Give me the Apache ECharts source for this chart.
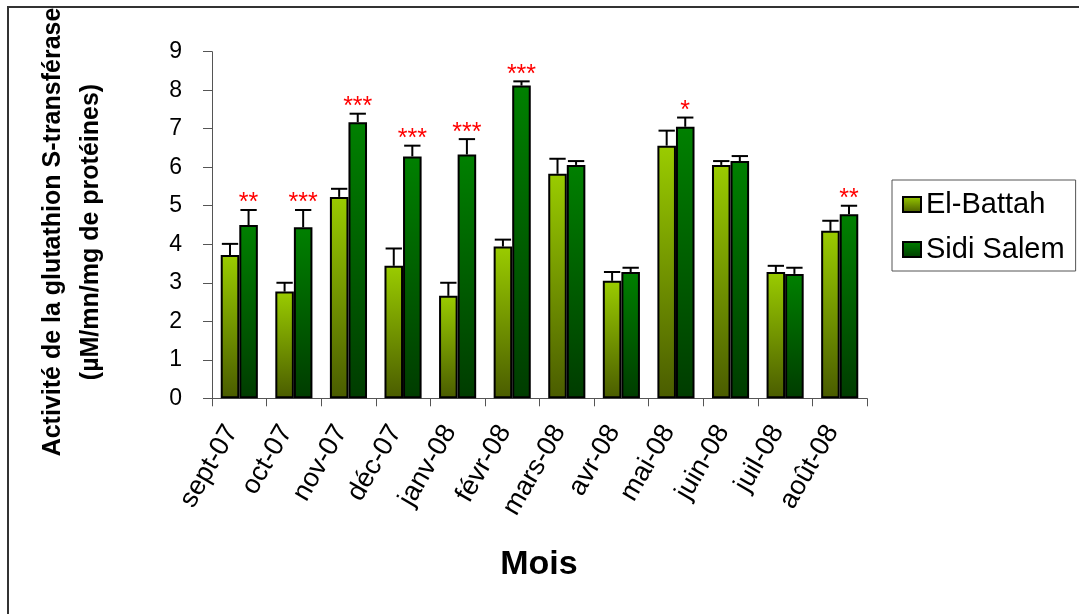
<!DOCTYPE html>
<html>
<head>
<meta charset="utf-8">
<script src="https://cdn.jsdelivr.net/npm/echarts@6/dist/echarts.min.js"></script>
<style>
  html, body { margin: 0; padding: 0; background: #fff; }
  #chart { width: 1079px; height: 614px; }
</style>
</head>
<body>
<div id="chart"></div>
<script>
// Monthly glutathion S-transférase activity, two sites, Sept 2007 – Aug 2008
const months = ['sept-07', 'oct-07', 'nov-07', 'déc-07', 'janv-08', 'févr-08',
                'mars-08', 'avr-08', 'mai-08', 'juin-08', 'juil-08', 'août-08'];
const elBattah    = [3.72, 2.77, 5.23, 3.44, 2.66, 3.94, 5.83, 3.05, 6.56, 6.06, 3.28, 4.35];
const elBattahErr = [0.29, 0.23, 0.21, 0.45, 0.34, 0.18, 0.39, 0.23, 0.39, 0.10, 0.16, 0.26];
const sidiSalem    = [4.50, 4.44, 7.17, 6.28, 6.33, 8.12, 6.06, 3.28, 7.05, 6.16, 3.23, 4.78];
const sidiSalemErr = [0.39, 0.45, 0.22, 0.28, 0.40, 0.11, 0.10, 0.11, 0.24, 0.13, 0.16, 0.22];
const significance = ['**', '***', '***', '***', '***', '***', '', '', '*', '', '', '**'];
const yMin = 0, yMax = 9, yStep = 1;

const FONT = 'Liberation Sans, Arial, sans-serif';
const CAT_GAP = 0.32;

const gradEB = new echarts.graphic.LinearGradient(0, 0, 0, 1, [
  { offset: 0, color: '#9acc00' },
  { offset: 1, color: '#4a5c00' }
]);
const gradSS = new echarts.graphic.LinearGradient(0, 0, 0, 1, [
  { offset: 0, color: '#008000' },
  { offset: 1, color: '#003c00' }
]);

// Upper error bar (stem + cap) and optional significance stars
function errorBars(side, stars) {
  return function (params, api) {
    const i = api.value(0);
    const v = api.value(1);
    const e = api.value(2);
    const base = api.coord([i, v]);
    const hi = api.coord([i, v + e]);
    const band = api.size([1, 0])[0];
    const barW = band * (1 - CAT_GAP) / 2;
    const x = base[0] + side * barW / 2;
    const cap = barW * 0.44;
    const children = [
      { type: 'line', shape: { x1: x, y1: base[1], x2: x, y2: hi[1] },
        style: { stroke: '#000', lineWidth: 2 } },
      { type: 'line', shape: { x1: x - cap, y1: hi[1], x2: x + cap, y2: hi[1] },
        style: { stroke: '#000', lineWidth: 2 } }
    ];
    if (stars && stars[i]) {
      children.push({
        type: 'text', x: x, y: hi[1] + 6,
        style: { text: stars[i], fill: '#ff0000', font: '25px ' + FONT,
                 align: 'center', verticalAlign: 'bottom' }
      });
    }
    return { type: 'group', children: children };
  };
}

const chart = echarts.init(document.getElementById('chart'), null, { renderer: 'canvas' });

chart.setOption({
  backgroundColor: '#fff',
  animation: false,
  grid: { left: 212, right: 212, top: 51.7, bottom: 215.7, containLabel: false },
  legend: {
    orient: 'vertical',
    left: 892, top: 180,
    padding: [10, 11, 7, 10],
    itemGap: 16,
    itemWidth: 18, itemHeight: 15,
    icon: 'rect',
    borderColor: '#555', borderWidth: 1,
    data: ['El-Battah', 'Sidi Salem'],
    textStyle: { fontFamily: FONT, fontSize: 29, color: '#000' }
  },
  xAxis: {
    type: 'category',
    data: months,
    axisLine: { lineStyle: { color: '#555', width: 1 } },
    axisTick: { show: true, length: 8, lineStyle: { color: '#555' } },
    axisLabel: { interval: 0, rotate: 60, margin: 16, color: '#000',
                 fontFamily: FONT, fontSize: 27, padding: [0, 15, 12, 0] },
    splitLine: { show: false }
  },
  yAxis: {
    type: 'value',
    min: yMin, max: yMax, interval: yStep,
    axisLine: { show: true, lineStyle: { color: '#555', width: 1 } },
    axisTick: { show: true, length: 9, lineStyle: { color: '#555' } },
    axisLabel: { margin: 30, color: '#000', fontFamily: FONT, fontSize: 23 },
    splitLine: { show: false }
  },
  series: [
    {
      name: 'El-Battah', type: 'bar', data: elBattah,
      barGap: '0%', barCategoryGap: (CAT_GAP * 100) + '%',
      itemStyle: { color: gradEB, borderColor: '#000', borderWidth: 2 }
    },
    {
      name: 'Sidi Salem', type: 'bar', data: sidiSalem,
      barGap: '0%', barCategoryGap: (CAT_GAP * 100) + '%',
      itemStyle: { color: gradSS, borderColor: '#000', borderWidth: 2 }
    },
    {
      name: 'err-eb', type: 'custom', z: 5,
      renderItem: errorBars(-1, null),
      encode: { x: 0, y: 1 },
      data: months.map((m, i) => [i, elBattah[i], elBattahErr[i]])
    },
    {
      name: 'err-ss', type: 'custom', z: 5,
      renderItem: errorBars(1, significance),
      encode: { x: 0, y: 1 },
      data: months.map((m, i) => [i, sidiSalem[i], sidiSalemErr[i]])
    }
  ],
  graphic: [
    { type: 'rect', silent: true, z: -1,
      shape: { x: 8, y: 7, width: 2000, height: 2000 },
      style: { fill: 'none', stroke: '#333', lineWidth: 2 } },
    { type: 'text', x: 72, y: 232, rotation: Math.PI / 2,
      style: { text: 'Activité de la glutathion S-transférase\n(µM/mn/mg de protéines)',
               font: 'bold 25px ' + FONT, fill: '#000', align: 'center',
               verticalAlign: 'middle', lineHeight: 38 } },
    { type: 'text', x: 539, y: 565,
      style: { text: 'Mois', font: 'bold 34px ' + FONT, fill: '#000',
               align: 'center', verticalAlign: 'middle' } }
  ]
});
</script>
</body>
</html>
